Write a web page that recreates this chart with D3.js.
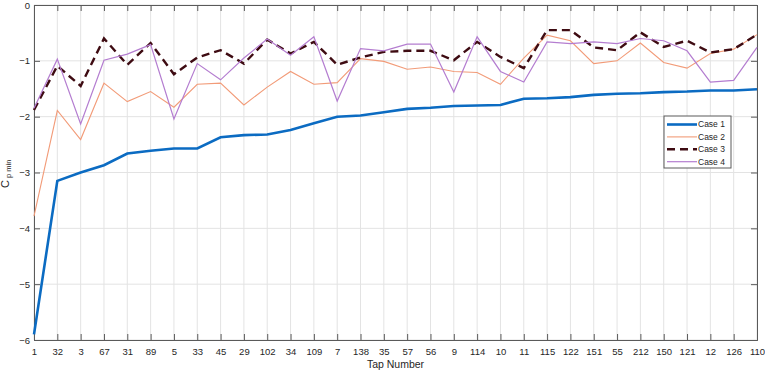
<!DOCTYPE html>
<html>
<head>
<meta charset="utf-8">
<script src="https://cdn.jsdelivr.net/npm/d3@7"></script>
<style>
    body { margin: 0; background: #fff; }
    svg { display: block; font-family: "Liberation Sans", Arial, sans-serif; }
</style>
</head>
<body>
<div id="chart"></div>
<script>
// ========================
// Data
// ========================
const tapNumbers = ["1", "32", "3", "67", "31", "89", "5", "33", "45", "29", "102", "34", "109", "7", "138", "35",
    "57", "56", "9", "114", "10", "11", "115", "122", "151", "55", "212", "150", "121", "12", "126", "110"];

const case1 = [-5.9, -3.15, -3.0, -2.87, -2.66, -2.61, -2.57, -2.57, -2.37, -2.33, -2.32, -2.24, -2.12, -2.0, -1.98, -1.92,
    -1.86, -1.84, -1.81, -1.8, -1.79, -1.68, -1.67, -1.65, -1.61, -1.59, -1.58, -1.56, -1.55, -1.53, -1.53, -1.51];
const case2 = [-3.78, -1.89, -2.41, -1.4, -1.73, -1.55, -1.83, -1.42, -1.4, -1.79, -1.47, -1.19, -1.42, -1.39, -0.96, -1.01,
    -1.15, -1.11, -1.19, -1.21, -1.42, -0.95, -0.54, -0.64, -1.05, -1.0, -0.68, -1.03, -1.13, -0.87, -0.79, -0.53];
const case3 = [-1.88, -1.09, -1.45, -0.6, -1.07, -0.68, -1.24, -0.94, -0.81, -1.05, -0.62, -0.87, -0.66, -1.07, -0.94, -0.84,
    -0.82, -0.82, -0.99, -0.66, -0.93, -1.13, -0.45, -0.45, -0.76, -0.81, -0.49, -0.75, -0.64, -0.85, -0.79, -0.53];
const case4 = [-1.85, -0.97, -2.13, -0.99, -0.88, -0.71, -2.04, -1.05, -1.34, -0.95, -0.61, -0.9, -0.57, -1.72, -0.78, -0.82,
    -0.7, -0.7, -1.56, -0.57, -1.19, -1.38, -0.66, -0.69, -0.66, -0.69, -0.6, -0.64, -0.82, -1.38, -1.35, -0.76];

const yTicks = [0, -1, -2, -3, -4, -5, -6];

const series = [
    { name: "Case 1", values: case1, color: "#0b6bc2", width: 2.6, dash: null },
    { name: "Case 2", values: case2, color: "#f29b78", width: 1.1, dash: null },
    { name: "Case 3", values: case3, color: "#3e0b12", width: 2.4, dash: "8,5" },
    { name: "Case 4", values: case4, color: "#b47dd0", width: 1.2, dash: null }
];

// ========================
// Setup
// ========================
const width = 765;
const height = 373;
const margin = { top: 5, right: 8, bottom: 33, left: 34 };
const innerW = width - margin.left - margin.right;
const innerH = height - margin.top - margin.bottom;
const textColor = "#262626";
const axisColor = "#5a5a5a";
const gridColor = "#e3e3e3";

const svg = d3.select("#chart").append("svg")
    .attr("width", width)
    .attr("height", height);

const g = svg.append("g")
    .attr("transform", `translate(${margin.left},${margin.top})`);

const x = d3.scalePoint()
    .domain(d3.range(tapNumbers.length))
    .range([0, innerW]);

const y = d3.scaleLinear()
    .domain([-6, 0])
    .range([innerH, 0]);

// ========================
// Grid
// ========================
g.append("g")
    .selectAll("line")
    .data(d3.range(tapNumbers.length))
    .join("line")
    .attr("x1", d => x(d)).attr("x2", d => x(d))
    .attr("y1", 0).attr("y2", innerH)
    .attr("stroke", gridColor);

g.append("g")
    .selectAll("line")
    .data(yTicks)
    .join("line")
    .attr("x1", 0).attr("x2", innerW)
    .attr("y1", d => y(d)).attr("y2", d => y(d))
    .attr("stroke", gridColor);

// ========================
// Axes (MATLAB-style box with inward ticks)
// ========================
const xAxisG = g.append("g")
    .attr("transform", `translate(0,${innerH})`)
    .call(d3.axisBottom(x).tickSize(-6).tickPadding(8).tickFormat(i => tapNumbers[i]));

const xTop = g.append("g")
    .call(d3.axisTop(x).tickSize(-6).tickFormat(""));

const yAxisG = g.append("g")
    .call(d3.axisLeft(y).tickValues(yTicks).tickSize(-6).tickPadding(4).tickFormat(d3.format("d")));

const yRight = g.append("g")
    .attr("transform", `translate(${innerW},0)`)
    .call(d3.axisRight(y).tickValues(yTicks).tickSize(-6).tickFormat(""));

[xAxisG, xTop, yAxisG, yRight].forEach(a => {
    a.select(".domain").attr("stroke", axisColor).attr("stroke-width", 1);
    a.selectAll(".tick line").attr("stroke", axisColor);
    a.selectAll("text")
        .attr("fill", textColor)
        .style("font-size", "9.5px");
});

// ========================
// Lines
// ========================
const line = d3.line()
    .x((d, i) => x(i))
    .y(d => y(d));

series.forEach(s => {
    g.append("path")
        .datum(s.values)
        .attr("fill", "none")
        .attr("stroke", s.color)
        .attr("stroke-width", s.width)
        .attr("stroke-dasharray", s.dash)
        .attr("d", line);
});

// ========================
// Labels
// ========================
svg.append("text")
    .attr("x", margin.left + innerW / 2)
    .attr("y", 368)
    .attr("text-anchor", "middle")
    .attr("fill", textColor)
    .style("font-size", "10.5px")
    .text("Tap Number");

// y label: C with subscript "p min", rotated
svg.append("text")
    .attr("transform", "translate(9,188) rotate(-90)")
    .attr("fill", textColor)
    .style("font-size", "11px")
    .text("C");

svg.append("text")
    .attr("transform", "translate(11,178) rotate(-90)")
    .attr("fill", textColor)
    .style("font-size", "7.5px")
    .text("p min");

// ========================
// Legend
// ========================
const legend = svg.append("g")
    .attr("transform", "translate(664,116)");

legend.append("rect")
    .attr("width", 67)
    .attr("height", 52)
    .attr("fill", "#fff")
    .attr("stroke", axisColor);

series.forEach((s, i) => {
    const row = legend.append("g")
        .attr("transform", `translate(0,${8.5 + i * 12.4})`);
    row.append("line")
        .attr("x1", 3).attr("x2", 33)
        .attr("stroke", s.color)
        .attr("stroke-width", s.width)
        .attr("stroke-dasharray", s.dash);
    row.append("text")
        .attr("x", 34)
        .attr("dy", "0.35em")
        .attr("fill", textColor)
        .style("font-size", "8.5px")
        .text(s.name);
});
</script>
</body>
</html>
